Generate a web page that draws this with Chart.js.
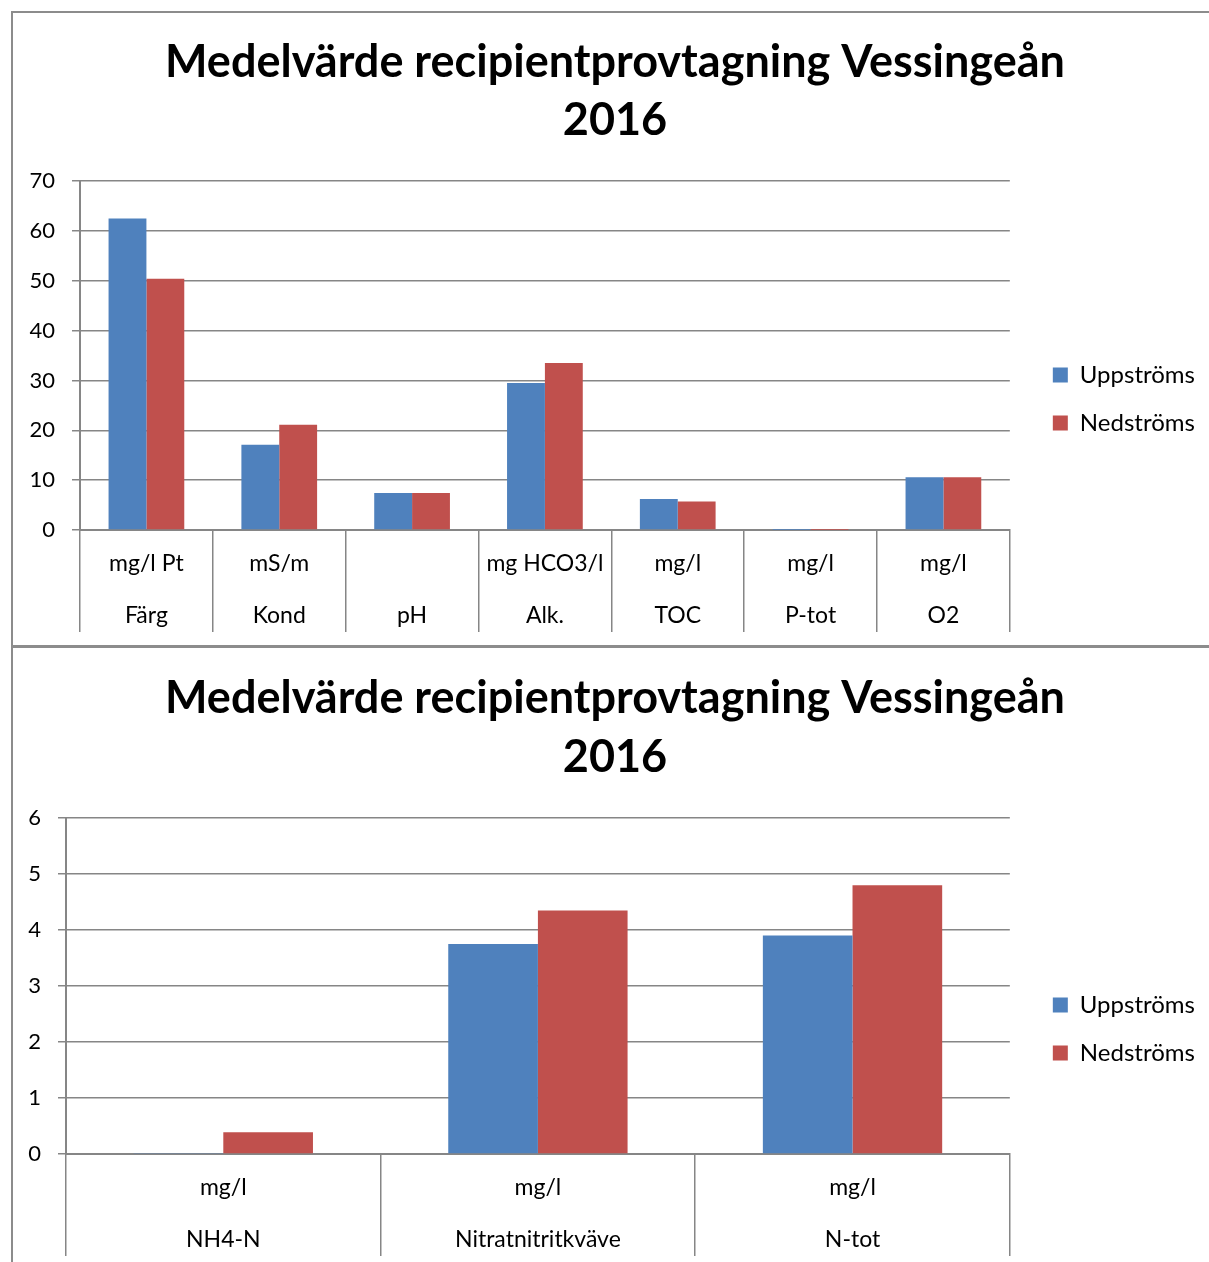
<!DOCTYPE html>
<html>
<head>
<meta charset="utf-8">
<script src="https://cdn.jsdelivr.net/npm/chart.js@4.4.1/dist/chart.umd.min.js"></script>
<style>
  body { margin: 0; background: #fff; overflow: hidden; width: 1209px; height: 1262px; position: relative; }
  .frame { position: absolute; left: 11px; width: 1300px; border: 2px solid #8c8c8c; box-sizing: border-box; }
  #frame1 { top: 11px; height: 636px; }
  #frame2 { top: 646px; height: 700px; }
  .wrap { position: absolute; left: 13px; width: 1204px; }
  #wrap1 { top: 13px; height: 632px; }
  #wrap2 { top: 648px; height: 614px; }
</style>
</head>
<body>
<div class="frame" id="frame1"></div>
<div class="frame" id="frame2"></div>
<div class="wrap" id="wrap1"><canvas id="chart1"></canvas></div>
<div class="wrap" id="wrap2"><canvas id="chart2"></canvas></div>
<script>
// chart 1 - general parameters
const units1 = ["mg/l Pt", "mS/m", "", "mg HCO3/l", "mg/l", "mg/l", "mg/l"];
const params1 = ["Färg", "Kond", "pH", "Alk.", "TOC", "P-tot", "O2"];
const upp1 = [62.5, 17.1, 7.4, 29.5, 6.2, 0.02, 10.6];
const ned1 = [50.4, 21.1, 7.4, 33.5, 5.7, 0.02, 10.6];
const yTicks1 = [0, 10, 20, 30, 40, 50, 60, 70];

// chart 2 - nitrogen
const units2 = ["mg/l", "mg/l", "mg/l"];
const params2 = ["NH4-N", "Nitratnitritkväve", "N-tot"];
const upp2 = [0.02, 3.75, 3.9];
const ned2 = [0.39, 4.35, 4.8];
const yTicks2 = [0, 1, 2, 3, 4, 5, 6];

const seriesNames = ["Uppströms", "Nedströms"];
const colors = { upp: "#4f81bd", ned: "#c0504d", grid: "#868686", text: "#000000" };
const FONT = "Lato, 'Open Sans', sans-serif";
const titleText = ["Medelvärde recipientprovtagning Vessingeån", "2016"];

// invisible spacer scale, used to leave room beside the legend
function spacer(width, weight) {
  return {
    type: "linear",
    position: "right",
    display: true,
    weight: weight,
    grid: { display: false },
    border: { display: false },
    ticks: { display: false },
    afterFit: (s) => { s.width = width; },
  };
}

function makeChart(id, units, params, upp, ned, yTicks, cfg) {
  const ctx = document.getElementById(id);
  return new Chart(ctx, {
    type: "bar",
    data: {
      labels: units.map((u, i) => [u, params[i]]),
      datasets: [
        { label: seriesNames[0], data: upp, backgroundColor: colors.upp, borderWidth: 0 },
        { label: seriesNames[1], data: ned, backgroundColor: colors.ned, borderWidth: 0 },
      ],
    },
    options: {
      responsive: true,
      maintainAspectRatio: false,
      animation: false,
      layout: { padding: 0 },
      datasets: { bar: { categoryPercentage: 0.57, barPercentage: 1.0 } },
      plugins: {
        title: {
          display: true,
          text: titleText,
          color: colors.text,
          font: { family: FONT, size: 45, weight: "bold", lineHeight: cfg.titleLine },
          padding: { top: cfg.titleTop, bottom: cfg.titleBottom },
        },
        legend: {
          position: "right",
          align: "start",
          maxWidth: 400,
          title: { display: true, text: "", font: { size: 1, lineHeight: 1 }, padding: { top: cfg.legendOffset, bottom: 0 } },
          labels: {
            boxWidth: 15,
            boxHeight: 15,
            padding: 24,
            color: colors.text,
            font: { family: FONT, size: 24 },
          },
        },
        tooltip: { enabled: false },
      },
      scales: {
        x: {
          grid: { display: true, drawOnChartArea: false, drawTicks: true, offset: true, tickLength: 102, color: colors.grid, lineWidth: 1.5 },
          border: { display: true, color: colors.grid, width: 2 },
          ticks: { color: colors.text, padding: -94, font: { family: FONT, size: 23, lineHeight: 52 / 23 }, maxRotation: 0, autoSkip: false },
          afterFit: (s) => { s.height = cfg.xHeight; },
        },
        y: {
          min: yTicks[0],
          max: yTicks[yTicks.length - 1],
          afterBuildTicks: (s) => { s.ticks = yTicks.map((v) => ({ value: v })); },
          grid: { color: colors.grid, lineWidth: 1.5, tickLength: 8 },
          border: { display: true, color: colors.grid, width: 2 },
          ticks: { color: colors.text, padding: 17, font: { family: FONT, size: 22 } },
          afterFit: (s) => { s.width = cfg.yWidth; },
        },
        gap: spacer(19, 0),
        edge: spacer(12, 2000),
      },
    },
  });
}

makeChart("chart1", units1, params1, upp1, ned1, yTicks1, {
  titleLine: 58 / 45, titleTop: 20, titleBottom: 32, xHeight: 115, yWidth: 67, legendOffset: 325,
});
makeChart("chart2", units2, params2, upp2, ned2, yTicks2, {
  titleLine: 59 / 45, titleTop: 21, titleBottom: 31, xHeight: 108, yWidth: 53, legendOffset: 320,
});
</script>
</body>
</html>
